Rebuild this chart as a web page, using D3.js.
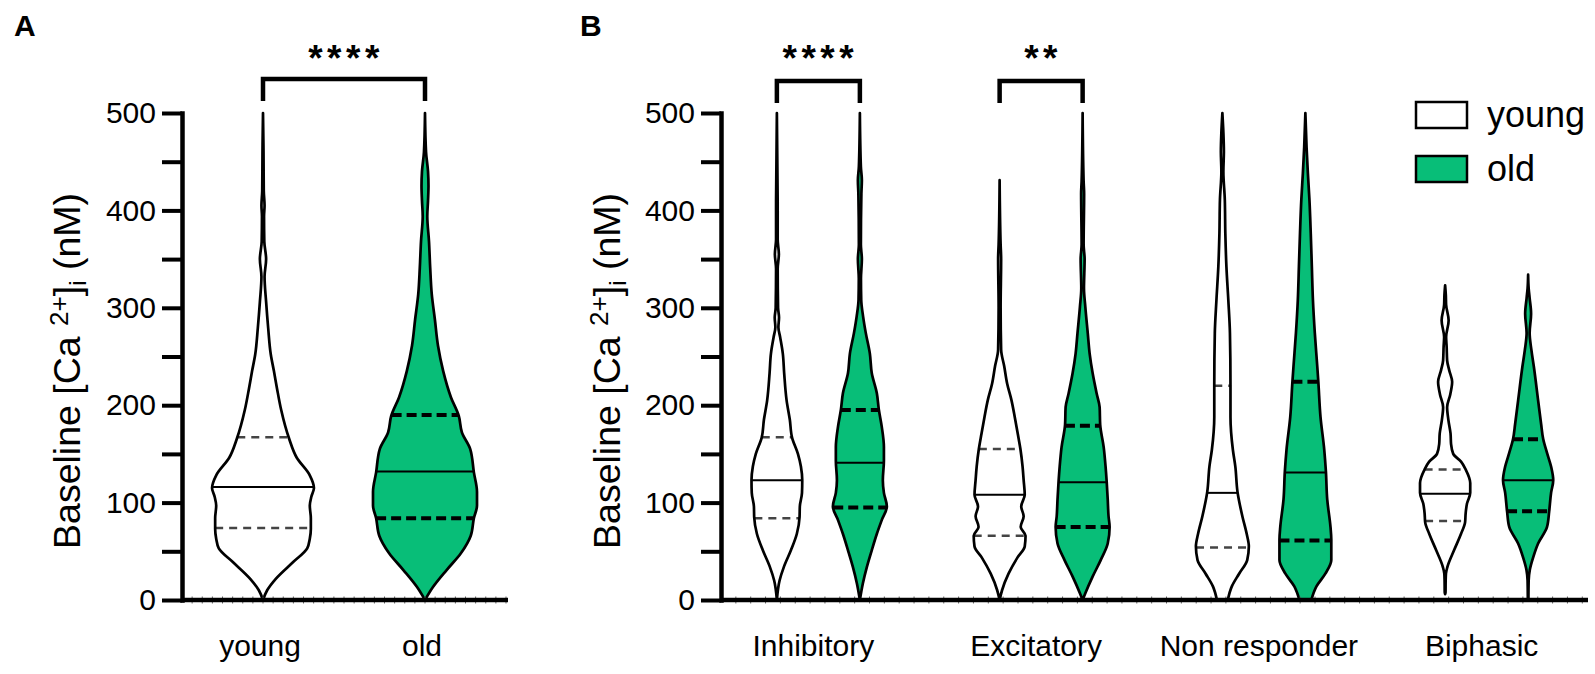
<!DOCTYPE html>
<html><head><meta charset="utf-8">
<script src="https://cdn.jsdelivr.net/npm/d3@7"></script>
<style>
body{margin:0;background:#fff}
svg{display:block}
text{font-family:"Liberation Sans",Arial,Helvetica,sans-serif;fill:#000}
</style>
</head><body><svg id="chart" width="1595" height="674"></svg>
<script>
// ---------------- data ----------------
const groupsA = ["young", "old"];
const categoriesB = ["Inhibitory", "Excitatory", "Non responder", "Biphasic"];
const series = ["young", "old"];
const yTickValues = [0, 50, 100, 150, 200, 250, 300, 350, 400, 450, 500];
const yLabelValues = [0, 100, 200, 300, 400, 500];

// density profiles: [baseline Ca2+ (nM), relative density]
const densA_young = [[0,0],[10,0.08],[22,0.25],[39,0.58],[53,0.85],[63,0.9],[73,0.92],[84,0.92],[97,0.9],[106,0.93],[115,0.98],[128,0.9],[146,0.65],[166,0.5],[195,0.35],[217,0.27],[235,0.21],[252,0.15],[279,0.1],[306,0.06],[332,0.03],[350,0.06],[368,0.025],[394,0.02],[405,0.03],[420,0.015],[460,0.01],[500,0]];
const densA_old = [[0,0],[13,0.15],[31,0.42],[48,0.69],[66,0.88],[84,0.94],[97,1.0],[111,1.0],[131,0.94],[155,0.87],[172,0.71],[189,0.65],[208,0.5],[235,0.35],[261,0.25],[288,0.19],[314,0.13],[341,0.1],[368,0.077],[394,0.044],[410,0.058],[425,0.067],[440,0.058],[460,0.02],[500,0]];

const densInh_young = [[0,0],[20,0.1],[34,0.26],[51,0.52],[68,0.74],[85,0.84],[96,0.85],[110,0.93],[123,0.94],[137,0.89],[150,0.78],[167,0.56],[185,0.48],[205,0.36],[233,0.27],[253,0.22],[270,0.12],[280,0.056],[290,0.08],[300,0.044],[340,0.03],[355,0.074],[370,0.03],[400,0.03],[500,0]];
const densInh_old = [[0,0],[17,0.11],[34,0.26],[51,0.44],[68,0.63],[82,0.81],[96,1.0],[110,0.89],[123,0.85],[143,0.89],[157,0.89],[178,0.81],[196,0.7],[212,0.63],[233,0.44],[253,0.37],[274,0.22],[291,0.12],[308,0.05],[330,0.04],[350,0.074],[365,0.037],[417,0.056],[431,0.074],[445,0.037],[500,0]];
const densExc_young = [[0,0],[10,0.09],[27,0.33],[44,0.67],[55,0.93],[66,0.96],[75,0.78],[86,0.89],[96,0.8],[108,0.93],[123,0.89],[137,0.85],[155,0.77],[171,0.67],[188,0.56],[205,0.44],[222,0.28],[240,0.17],[257,0.056],[300,0.037],[350,0.056],[365,0.037],[431,0]];
const densExc_old = [[0,0],[7,0.1],[24,0.37],[41,0.67],[58,0.93],[75,1.0],[86,0.96],[103,0.93],[122,0.89],[137,0.85],[157,0.78],[180,0.65],[198,0.63],[212,0.52],[233,0.37],[253,0.26],[274,0.19],[301,0.1],[320,0.05],[350,0.074],[365,0.037],[417,0.056],[430,0.037],[500,0]];
const densNon_young = [[0,0.2],[14,0.35],[27,0.62],[41,0.92],[55,0.98],[68,0.9],[86,0.74],[111,0.56],[137,0.48],[154,0.39],[188,0.3],[221,0.3],[274,0.28],[308,0.22],[342,0.15],[376,0.11],[411,0.09],[440,0.037],[460,0.056],[480,0.037],[500,0]];
const densNon_old = [[0,0.22],[14,0.41],[27,0.74],[41,0.96],[62,0.96],[75,0.93],[103,0.81],[132,0.76],[154,0.7],[188,0.56],[224,0.48],[240,0.44],[274,0.35],[308,0.28],[342,0.24],[376,0.2],[411,0.15],[438,0.093],[465,0.044],[500,0]];
const densBip_young = [[6,0],[8,0.015],[20,0.02],[27,0.03],[34,0.085],[51,0.33],[68,0.59],[80,0.74],[89,0.76],[99,0.81],[110,0.93],[120,0.93],[134,0.76],[142,0.59],[150,0.3],[160,0.22],[171,0.2],[185,0.12],[198,0.074],[211,0.19],[224,0.26],[236,0.15],[246,0.074],[260,0.056],[270,0.037],[287,0.13],[303,0.037],[313,0.026],[323,0]];
const densBip_old = [[0,0.011],[20,0.02],[31,0.063],[44,0.19],[58,0.37],[75,0.7],[91,0.78],[110,0.85],[123,0.93],[137,0.85],[151,0.7],[165,0.56],[181,0.48],[205,0.37],[240,0.21],[257,0.12],[274,0.056],[294,0.11],[310,0.056],[320,0.02],[334,0]];

// quartiles [young, old]
const q1A = [74, 84];
const medianA = [116, 132];
const q3A = [167, 190];

const q1B = [[84, 95], [66, 75], [54, 61], [81, 91]];
const medianB = [[123, 141], [108, 121], [110, 131], [109, 123]];
const q3B = [[167, 195], [155, 179], [220, 224], [134, 165]];

const densB = [[densInh_young, densInh_old], [densExc_young, densExc_old], [densNon_young, densNon_old], [densBip_young, densBip_old]];
const densA = [densA_young, densA_old];

const sigA = "****";
const sigB = ["****", "**", "", ""];
const yTitleMain = "Baseline [Ca ";
const yTitleSup = "2+";
const yTitleSub = "i";
const yTitleEnd = " (nM)";

// ---------------- styles ----------------
const GREEN = "#08be78";
const svg = d3.select("#chart");

const y = d3.scaleLinear().domain([0, 500]).range([600, 113]);

function drawYAxis(g, x0, xEnd) {
  const ax = g.append("g").attr("transform", `translate(${x0},0)`)
    .call(d3.axisLeft(y).tickValues(yTickValues).tickSize(20).tickSizeOuter(0).tickPadding(6)
      .tickFormat(d => yLabelValues.includes(d) ? d : ""));
  ax.select(".domain").attr("stroke", "#000").attr("stroke-width", 4.5).attr("stroke-linecap", "square");
  ax.selectAll(".tick line").attr("stroke", "#000").attr("stroke-width", 4);
  ax.selectAll(".tick text").attr("font-size", 30).attr("fill", "#000");
  g.append("line").attr("x1", x0).attr("x2", xEnd).attr("y1", y(0)).attr("y2", y(0))
    .attr("stroke", "#000").attr("stroke-width", 4.5);
}

function drawMinorTicks(g, x0, xEnd, step) {
  const xs = d3.range(x0 + step, xEnd, step);
  g.selectAll(null).data(xs).enter().append("line")
    .attr("x1", d => d).attr("x2", d => d).attr("y1", y(0) - 3.5).attr("y2", y(0) + 3.5)
    .attr("stroke", "#666").attr("stroke-width", 1);
}

function drawYTitle(g, xBase, yMid) {
  const t = g.append("text").attr("transform", `translate(${xBase},${yMid}) rotate(-90)`)
    .attr("text-anchor", "middle").attr("font-size", 37.5);
  t.append("tspan").text(yTitleMain);
  t.append("tspan").attr("font-size", 26).attr("dy", -12).text(yTitleSup);
  t.append("tspan").attr("font-size", 37.5).attr("dy", 12).text("]");
  t.append("tspan").attr("font-size", 24).attr("dy", 6).text(yTitleSub);
  t.append("tspan").attr("font-size", 37.5).attr("dy", -6).text(yTitleEnd);
}

function drawViolin(g, cx, dens, q1, med, q3, w, isOld) {
  const hw = d3.scaleLinear().domain(dens.map(d => d[0])).range(dens.map(d => d[1])).clamp(true);
  const area = d3.area().curve(d3.curveMonotoneY)
    .y(d => y(d[0])).x0(d => cx - w(d[1])).x1(d => cx + w(d[1]));
  g.append("path").attr("d", area(dens)).attr("fill", isOld ? GREEN : "#fff").attr("stroke", "none");
  const line = (v, dash, sw, col) => g.append("line")
    .attr("x1", cx - w(hw(v))).attr("x2", cx + w(hw(v))).attr("y1", y(v)).attr("y2", y(v))
    .attr("stroke", col).attr("stroke-width", sw).attr("stroke-dasharray", dash);
  if (isOld) { line(q1, "10,5", 4, "#000"); line(q3, "10,5", 4, "#000"); }
  else { line(q1, "8,6", 2.5, "#444"); line(q3, "8,6", 2.5, "#444"); }
  line(med, null, 2, "#000");
  g.append("path").attr("d", area(dens)).attr("fill", "none").attr("stroke", "#000")
    .attr("stroke-width", 2.7).attr("stroke-linejoin", "round");
}

function drawBracket(g, xa, xb, yTop, yBot, label, labelY) {
  g.append("path").attr("d", `M${xa},${yBot}V${yTop}H${xb}V${yBot}`)
    .attr("fill", "none").attr("stroke", "#000").attr("stroke-width", 4.5);
  g.append("text").attr("x", (xa + xb) / 2 + 2).attr("y", labelY).attr("text-anchor", "middle")
    .attr("font-size", 37).attr("font-weight", "bold").attr("letter-spacing", 4.5).text(label);
}

// ---------------- Panel A ----------------
const gA = svg.append("g");
const xA = d3.scaleBand().domain(groupsA).range([182, 506]);
const wA = d3.scaleLinear().domain([0, 1]).range([0, 52]);
gA.append("text").attr("x", 14).attr("y", 36).attr("font-size", 30).attr("font-weight", "bold").text("A");
drawYTitle(gA, 80, 371);
groupsA.forEach((s, i) => {
  drawViolin(gA, xA(s) + xA.bandwidth() / 2, densA[i], q1A[i], medianA[i], q3A[i], wA, s === "old");
});
drawMinorTicks(gA, 182, 508, xA.bandwidth() / 16);
drawYAxis(gA, 182, 508);
gA.selectAll(null).data(groupsA).enter().append("text")
  .attr("x", d => xA(d) + xA.bandwidth() / 2 - 3).attr("y", 656)
  .attr("text-anchor", "middle").attr("font-size", 30).text(d => d);
drawBracket(gA, xA("young") + xA.bandwidth() / 2, xA("old") + xA.bandwidth() / 2, 79, 101, sigA, 71);

// ---------------- Panel B ----------------
const gB = svg.append("g");
const xB = d3.scaleBand().domain(categoriesB).range([707, 1598]);
const xSub = d3.scalePoint().domain(series).range([-41.5, 41.5]);
const wB = d3.scaleLinear().domain([0, 1]).range([0, 27]);
gB.append("text").attr("x", 580).attr("y", 36).attr("font-size", 30).attr("font-weight", "bold").text("B");
drawYTitle(gB, 620, 371);
categoriesB.forEach((c, ci) => {
  series.forEach((s, si) => {
    const cx = xB(c) + xB.bandwidth() / 2 + xSub(s);
    drawViolin(gB, cx, densB[ci][si], q1B[ci][si], medianB[ci][si], q3B[ci][si], wB, s === "old");
  });
});
drawMinorTicks(gB, 721, 1588, xB.step() / 15);
drawYAxis(gB, 721, 1588);
gB.selectAll(null).data(categoriesB).enter().append("text")
  .attr("x", d => xB(d) + xB.bandwidth() / 2 - 5).attr("y", 656)
  .attr("text-anchor", "middle").attr("font-size", 30).text(d => d);
categoriesB.forEach((c, ci) => {
  if (!sigB[ci]) return;
  const cx = xB(c) + xB.bandwidth() / 2;
  drawBracket(gB, cx + xSub("young"), cx + xSub("old"), 81, 103, sigB[ci], 71);
});

// legend
const leg = gB.append("g");
series.forEach((s, i) => {
  leg.append("rect").attr("x", 1416).attr("y", 102 + i * 54).attr("width", 51).attr("height", 26)
    .attr("fill", s === "old" ? GREEN : "#fff").attr("stroke", "#000").attr("stroke-width", 2.5);
  leg.append("text").attr("x", 1487).attr("y", 127 + i * 54).attr("font-size", 36).text(s);
});
</script>
</body></html>
